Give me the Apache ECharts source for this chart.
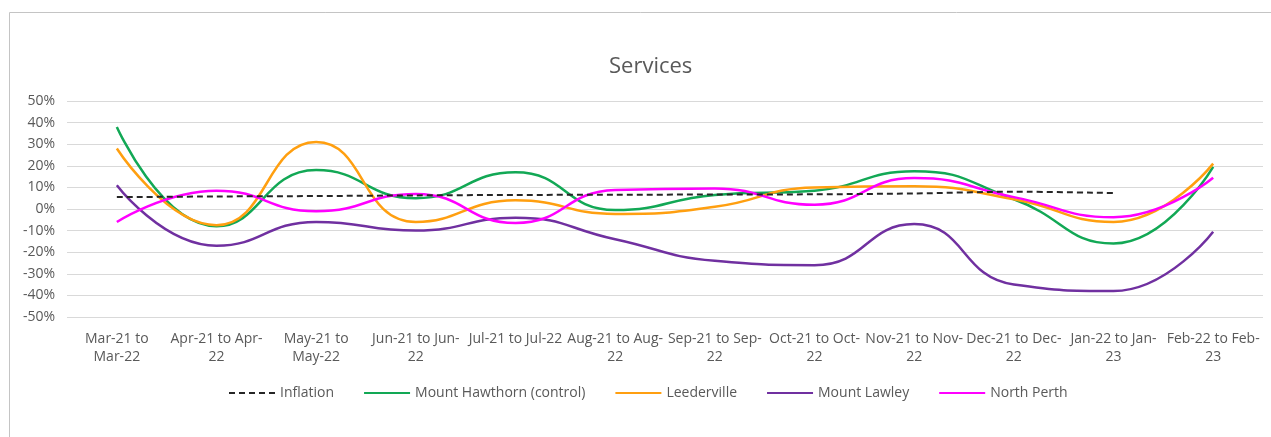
<!DOCTYPE html>
<html>
<head>
<meta charset="utf-8">
<script src="https://cdn.jsdelivr.net/npm/echarts@6/dist/echarts.min.js"></script>
<style>
html,body{margin:0;padding:0;background:#fff;}
#chart{width:1271px;height:437px;}
</style>
</head>
<body>
<div id="chart"></div>
<script>
const categories = [
  "Mar-21 to\nMar-22", "Apr-21 to Apr-\n22", "May-21 to\nMay-22", "Jun-21 to Jun-\n22",
  "Jul-21 to Jul-22", "Aug-21 to Aug-\n22", "Sep-21 to Sep-\n22", "Oct-21 to Oct-\n22",
  "Nov-21 to Nov-\n22", "Dec-21 to Dec-\n22", "Jan-22 to Jan-\n23", "Feb-22 to Feb-\n23"
];
const inflation      = [5.5, 5.8, 6.0, 6.3, 6.5, 6.6, 6.7, 6.8, 7.2, 8.0, 7.4, null];
const mountHawthorn  = [38, -8, 18, 5, 17, -0.5, 6.5, 8.5, 17.5, 4.5, -16, 19.5];
const leederville    = [28, -7.5, 31, -6, 4, -2.3, 1, 10, 10.5, 4.5, -6, 21];
const mountLawley    = [11, -17, -6, -10, -4, -14, -24, -26, -7, -35, -38, -10.5];
const northPerth     = [-6, 8.5, -1, 7, -6.5, 8.8, 9.5, 2, 14.3, 5.5, -3.8, 14.5];
const yTicks = { min: -50, max: 50, interval: 10 };

const font = "'Open Sans', 'Noto Sans', sans-serif";
const chart = echarts.init(document.getElementById('chart'));
function lineSeries(name, data, color, extra) {
  return Object.assign({
    name: name, type: 'line', data: data, smooth: 0.5, symbol: 'none',
    lineStyle: { color: color, width: 2.5 }, itemStyle: { color: color },
    connectNulls: false
  }, extra || {});
}
chart.setOption({
  animation: false,
  backgroundColor: '#ffffff',
  graphic: [{
    type: 'rect', left: 7, top: 10,
    shape: { width: 1300, height: 460 },
    style: { fill: 'none', stroke: '#c4c4c4', lineWidth: 1 },
    silent: true, z: -1
  }],
  title: {
    text: 'Services', left: 604, top: 51,
    textStyle: { fontFamily: font, fontSize: 22, fontWeight: 'normal', color: '#595959' }
  },
  grid: { left: 67, right: 8, top: 101, bottom: 120, containLabel: false },
  xAxis: {
    type: 'category', data: categories, boundaryGap: true,
    axisLine: { show: false }, axisTick: { show: false },
    axisLabel: { interval: 0, fontFamily: font, fontSize: 14, color: '#595959', lineHeight: 18, margin: 13 },
    splitLine: { show: false }
  },
  yAxis: {
    type: 'value', min: yTicks.min, max: yTicks.max, interval: yTicks.interval,
    axisLine: { show: false }, axisTick: { show: false },
    axisLabel: { formatter: '{value}%', fontFamily: font, fontSize: 14, color: '#595959', margin: 12 },
    splitLine: { lineStyle: { color: '#d9d9d9', width: 1 } }
  },
  legend: {
    bottom: 32, left: 223, itemWidth: 46, itemHeight: 4, itemGap: 29,
    itemStyle: { opacity: 0 },
    textStyle: { fontFamily: font, fontSize: 14, color: '#595959' },
    data: ['Inflation', 'Mount Hawthorn (control)', 'Leederville', 'Mount Lawley', 'North Perth']
  },
  series: [
    lineSeries('Inflation', inflation, '#262626', { smooth: 0.3, lineStyle: { color: '#262626', width: 2, type: [6, 4] }, z: 5 }),
    lineSeries('Mount Hawthorn (control)', mountHawthorn, '#12a855'),
    lineSeries('Leederville', leederville, '#ff9f10'),
    lineSeries('Mount Lawley', mountLawley, '#7030a0'),
    lineSeries('North Perth', northPerth, '#ff00ff')
  ]
});
</script>
</body>
</html>
